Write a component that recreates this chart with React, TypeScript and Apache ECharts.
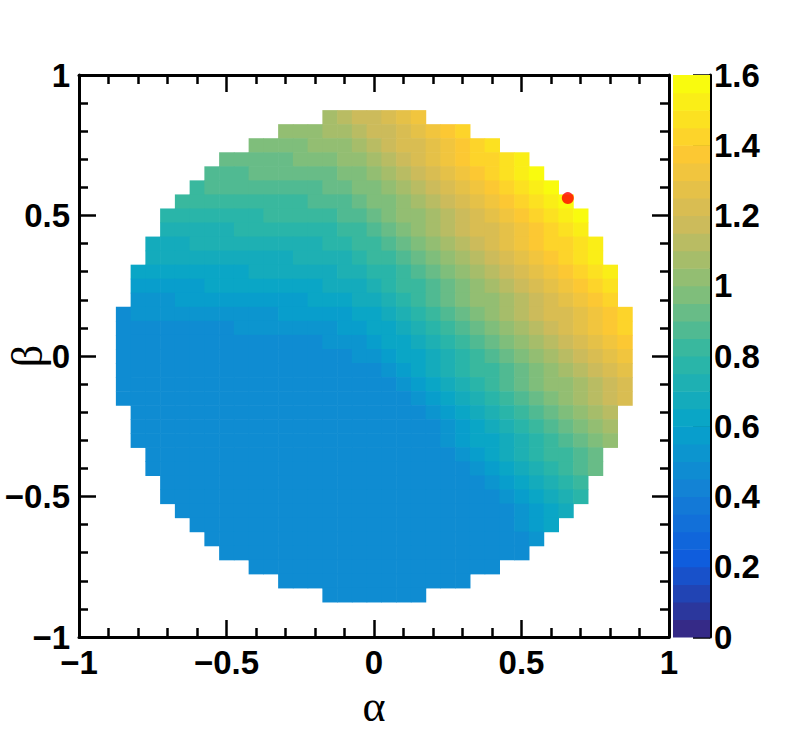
import React, { useEffect, useRef } from "react";
import * as echarts from "echarts";

// Histogram bin width (both axes) and the rows of the map, top (β = 0.85) to bottom (β = −0.85).
const BIN = 0.05;
const betaRows = [
  0.85, 0.8, 0.75, 0.7, 0.65, 0.6, 0.55, 0.5, 0.45, 0.4, 0.35, 0.3, 0.25, 0.2, 0.15, 0.1, 0.05, 0,
  -0.05, -0.1, -0.15, -0.2, -0.25, -0.3, -0.35, -0.4, -0.45, -0.5, -0.55, -0.6, -0.65, -0.7, -0.75, -0.8, -0.85,
];
const valueRows: number[][] = [
  [1.09, 1.12, 1.15, 1.19, 1.23, 1.28, 1.32],
  [1.02, 1.02, 1.04, 1.06, 1.08, 1.11, 1.15, 1.19, 1.24, 1.28, 1.33, 1.38, 1.43],
  [0.97, 0.98, 0.98, 0.99, 1.0, 1.02, 1.04, 1.07, 1.11, 1.15, 1.2, 1.24, 1.29, 1.34, 1.39, 1.44, 1.48],
  [0.92, 0.93, 0.93, 0.94, 0.94, 0.95, 0.96, 0.98, 1.0, 1.03, 1.07, 1.11, 1.16, 1.2, 1.25, 1.3, 1.35, 1.4, 1.44, 1.49, 1.54],
  [0.88, 0.89, 0.89, 0.9, 0.9, 0.91, 0.91, 0.93, 0.94, 0.97, 0.99, 1.03, 1.07, 1.12, 1.16, 1.21, 1.26, 1.31, 1.36, 1.4, 1.45, 1.5, 1.55],
  [0.84, 0.85, 0.85, 0.86, 0.86, 0.87, 0.87, 0.88, 0.89, 0.91, 0.93, 0.96, 0.99, 1.03, 1.08, 1.12, 1.17, 1.22, 1.27, 1.32, 1.36, 1.41, 1.46, 1.51, 1.56],
  [0.8, 0.81, 0.81, 0.82, 0.82, 0.83, 0.83, 0.84, 0.84, 0.85, 0.87, 0.89, 0.92, 0.95, 0.99, 1.04, 1.08, 1.13, 1.18, 1.23, 1.28, 1.32, 1.37, 1.42, 1.47, 1.52, 1.56],
  [0.76, 0.77, 0.77, 0.78, 0.78, 0.79, 0.79, 0.8, 0.8, 0.81, 0.82, 0.83, 0.85, 0.88, 0.91, 0.95, 1.0, 1.04, 1.09, 1.14, 1.19, 1.24, 1.28, 1.33, 1.38, 1.43, 1.48, 1.52, 1.57],
  [0.72, 0.73, 0.73, 0.74, 0.74, 0.75, 0.75, 0.76, 0.76, 0.77, 0.78, 0.79, 0.81, 0.84, 0.87, 0.91, 0.96, 1.0, 1.05, 1.1, 1.15, 1.2, 1.24, 1.29, 1.34, 1.39, 1.44, 1.48, 1.53],
  [0.68, 0.69, 0.69, 0.7, 0.7, 0.71, 0.71, 0.72, 0.72, 0.73, 0.73, 0.74, 0.76, 0.78, 0.8, 0.84, 0.87, 0.92, 0.96, 1.01, 1.06, 1.11, 1.16, 1.2, 1.25, 1.3, 1.35, 1.4, 1.44, 1.49, 1.54],
  [0.65, 0.65, 0.66, 0.66, 0.67, 0.67, 0.68, 0.68, 0.69, 0.69, 0.7, 0.71, 0.72, 0.74, 0.76, 0.8, 0.83, 0.88, 0.92, 0.97, 1.02, 1.07, 1.12, 1.16, 1.21, 1.26, 1.31, 1.36, 1.4, 1.45, 1.5],
  [0.61, 0.61, 0.62, 0.62, 0.63, 0.63, 0.64, 0.64, 0.65, 0.65, 0.66, 0.66, 0.67, 0.68, 0.7, 0.73, 0.76, 0.79, 0.84, 0.88, 0.93, 0.98, 1.03, 1.08, 1.12, 1.17, 1.22, 1.27, 1.32, 1.36, 1.41, 1.46, 1.51],
  [0.57, 0.58, 0.58, 0.59, 0.59, 0.6, 0.6, 0.61, 0.61, 0.62, 0.62, 0.63, 0.63, 0.65, 0.66, 0.69, 0.72, 0.76, 0.8, 0.84, 0.89, 0.94, 0.99, 1.04, 1.08, 1.13, 1.18, 1.23, 1.28, 1.32, 1.37, 1.42, 1.47],
  [0.53, 0.54, 0.54, 0.55, 0.55, 0.56, 0.56, 0.57, 0.57, 0.58, 0.58, 0.59, 0.6, 0.61, 0.63, 0.65, 0.68, 0.72, 0.76, 0.8, 0.85, 0.9, 0.95, 1.0, 1.04, 1.09, 1.14, 1.19, 1.24, 1.28, 1.33, 1.38, 1.43],
  [0.49, 0.5, 0.5, 0.51, 0.51, 0.52, 0.52, 0.53, 0.53, 0.54, 0.54, 0.55, 0.55, 0.56, 0.57, 0.59, 0.61, 0.64, 0.68, 0.72, 0.76, 0.81, 0.86, 0.91, 0.96, 1.0, 1.05, 1.1, 1.15, 1.2, 1.24, 1.29, 1.34, 1.39, 1.44],
  [0.47, 0.47, 0.47, 0.47, 0.48, 0.48, 0.49, 0.49, 0.5, 0.5, 0.51, 0.51, 0.52, 0.52, 0.53, 0.55, 0.57, 0.6, 0.64, 0.68, 0.72, 0.77, 0.82, 0.87, 0.92, 0.96, 1.01, 1.06, 1.11, 1.16, 1.2, 1.25, 1.3, 1.35, 1.4],
  [0.47, 0.47, 0.47, 0.47, 0.47, 0.47, 0.47, 0.47, 0.47, 0.47, 0.47, 0.48, 0.48, 0.49, 0.5, 0.51, 0.54, 0.56, 0.6, 0.64, 0.68, 0.73, 0.78, 0.83, 0.88, 0.92, 0.97, 1.02, 1.07, 1.12, 1.16, 1.21, 1.26, 1.31, 1.36],
  [0.47, 0.47, 0.47, 0.47, 0.47, 0.47, 0.47, 0.47, 0.47, 0.47, 0.47, 0.47, 0.47, 0.47, 0.47, 0.48, 0.5, 0.53, 0.56, 0.6, 0.64, 0.69, 0.74, 0.79, 0.84, 0.88, 0.93, 0.98, 1.03, 1.08, 1.12, 1.17, 1.22, 1.27, 1.32],
  [0.47, 0.47, 0.47, 0.47, 0.47, 0.47, 0.47, 0.47, 0.47, 0.47, 0.47, 0.47, 0.47, 0.47, 0.47, 0.47, 0.47, 0.49, 0.52, 0.56, 0.6, 0.65, 0.7, 0.75, 0.8, 0.84, 0.89, 0.94, 0.99, 1.04, 1.08, 1.13, 1.18, 1.23, 1.28],
  [0.47, 0.47, 0.47, 0.47, 0.47, 0.47, 0.47, 0.47, 0.47, 0.47, 0.47, 0.47, 0.47, 0.47, 0.47, 0.47, 0.47, 0.47, 0.48, 0.52, 0.56, 0.61, 0.66, 0.71, 0.76, 0.8, 0.85, 0.9, 0.95, 1.0, 1.04, 1.09, 1.14, 1.19, 1.24],
  [0.47, 0.47, 0.47, 0.47, 0.47, 0.47, 0.47, 0.47, 0.47, 0.47, 0.47, 0.47, 0.47, 0.47, 0.47, 0.47, 0.47, 0.47, 0.47, 0.48, 0.52, 0.57, 0.62, 0.67, 0.72, 0.76, 0.81, 0.86, 0.91, 0.96, 1.0, 1.05, 1.1, 1.15, 1.2],
  [0.47, 0.47, 0.47, 0.47, 0.47, 0.47, 0.47, 0.47, 0.47, 0.47, 0.47, 0.47, 0.47, 0.47, 0.47, 0.47, 0.47, 0.47, 0.47, 0.48, 0.53, 0.58, 0.63, 0.68, 0.72, 0.77, 0.82, 0.87, 0.92, 0.96, 1.01, 1.06, 1.11],
  [0.47, 0.47, 0.47, 0.47, 0.47, 0.47, 0.47, 0.47, 0.47, 0.47, 0.47, 0.47, 0.47, 0.47, 0.47, 0.47, 0.47, 0.47, 0.47, 0.47, 0.49, 0.54, 0.59, 0.64, 0.68, 0.73, 0.78, 0.83, 0.88, 0.92, 0.97, 1.02, 1.07],
  [0.47, 0.47, 0.47, 0.47, 0.47, 0.47, 0.47, 0.47, 0.47, 0.47, 0.47, 0.47, 0.47, 0.47, 0.47, 0.47, 0.47, 0.47, 0.47, 0.47, 0.47, 0.5, 0.55, 0.6, 0.64, 0.69, 0.74, 0.79, 0.84, 0.88, 0.93, 0.98, 1.03],
  [0.47, 0.47, 0.47, 0.47, 0.47, 0.47, 0.47, 0.47, 0.47, 0.47, 0.47, 0.47, 0.47, 0.47, 0.47, 0.47, 0.47, 0.47, 0.47, 0.47, 0.47, 0.51, 0.56, 0.6, 0.65, 0.7, 0.75, 0.8, 0.84, 0.89, 0.94],
  [0.47, 0.47, 0.47, 0.47, 0.47, 0.47, 0.47, 0.47, 0.47, 0.47, 0.47, 0.47, 0.47, 0.47, 0.47, 0.47, 0.47, 0.47, 0.47, 0.47, 0.47, 0.47, 0.52, 0.56, 0.61, 0.66, 0.71, 0.76, 0.8, 0.85, 0.9],
  [0.47, 0.47, 0.47, 0.47, 0.47, 0.47, 0.47, 0.47, 0.47, 0.47, 0.47, 0.47, 0.47, 0.47, 0.47, 0.47, 0.47, 0.47, 0.47, 0.47, 0.47, 0.48, 0.52, 0.57, 0.62, 0.67, 0.72, 0.76, 0.81],
  [0.47, 0.47, 0.47, 0.47, 0.47, 0.47, 0.47, 0.47, 0.47, 0.47, 0.47, 0.47, 0.47, 0.47, 0.47, 0.47, 0.47, 0.47, 0.47, 0.47, 0.47, 0.47, 0.48, 0.53, 0.58, 0.63, 0.68, 0.72, 0.77],
  [0.47, 0.47, 0.47, 0.47, 0.47, 0.47, 0.47, 0.47, 0.47, 0.47, 0.47, 0.47, 0.47, 0.47, 0.47, 0.47, 0.47, 0.47, 0.47, 0.47, 0.47, 0.47, 0.49, 0.54, 0.59, 0.64, 0.68],
  [0.47, 0.47, 0.47, 0.47, 0.47, 0.47, 0.47, 0.47, 0.47, 0.47, 0.47, 0.47, 0.47, 0.47, 0.47, 0.47, 0.47, 0.47, 0.47, 0.47, 0.47, 0.47, 0.5, 0.55, 0.6],
  [0.47, 0.47, 0.47, 0.47, 0.47, 0.47, 0.47, 0.47, 0.47, 0.47, 0.47, 0.47, 0.47, 0.47, 0.47, 0.47, 0.47, 0.47, 0.47, 0.47, 0.47, 0.47, 0.51],
  [0.47, 0.47, 0.47, 0.47, 0.47, 0.47, 0.47, 0.47, 0.47, 0.47, 0.47, 0.47, 0.47, 0.47, 0.47, 0.47, 0.47, 0.47, 0.47, 0.47, 0.47],
  [0.47, 0.47, 0.47, 0.47, 0.47, 0.47, 0.47, 0.47, 0.47, 0.47, 0.47, 0.47, 0.47, 0.47, 0.47, 0.47, 0.47],
  [0.47, 0.47, 0.47, 0.47, 0.47, 0.47, 0.47, 0.47, 0.47, 0.47, 0.47, 0.47, 0.47],
  [0.47, 0.47, 0.47, 0.47, 0.47, 0.47, 0.47],
];

// Contour levels of the colour scale (32 bands of 0.05 from 0 to 1.6).
const contourLevels = [
  0, 0.05, 0.1, 0.15, 0.2, 0.25, 0.3, 0.35, 0.4, 0.45, 0.5, 0.55, 0.6, 0.65, 0.7, 0.75, 0.8,
  0.85, 0.9, 0.95, 1.0, 1.05, 1.1, 1.15, 1.2, 1.25, 1.3, 1.35, 1.4, 1.45, 1.5, 1.55, 1.6,
];

// Marked point (α, β)
const markedPoint = [[0.657, 0.562]];

// ROOT "bird" palette stops
const BIRD_R = [0.2082, 0.0592, 0.078, 0.0232, 0.1802, 0.5301, 0.8186, 0.9956, 0.9764];
const BIRD_G = [0.1664, 0.3599, 0.5041, 0.6419, 0.7178, 0.7492, 0.7328, 0.7862, 0.9832];
const BIRD_B = [0.5293, 0.8684, 0.8385, 0.7914, 0.6425, 0.4662, 0.3499, 0.1968, 0.0539];

function birdColor(t: number): string {
  const n = BIRD_R.length - 1;
  const x = Math.max(0, Math.min(1, t)) * n;
  const i = Math.min(n - 1, Math.floor(x));
  const f = x - i;
  const c = (arr: number[]) => Math.round((arr[i] + (arr[i + 1] - arr[i]) * f) * 255);
  return `rgb(${c(BIRD_R)},${c(BIRD_G)},${c(BIRD_B)})`;
}

const LABEL_FONT = "'Liberation Sans', Arial, Helvetica, sans-serif";
const TITLE_FONT = "'Liberation Serif', 'Times New Roman', serif";
const LABEL_SIZE = 33;
const minus = (v: number) => String(v).replace("-", "\u2212");

export default function App() {
  const ref = useRef<HTMLDivElement>(null);

  useEffect(() => {
    if (!ref.current) return;
    const chart = echarts.init(ref.current, undefined, { renderer: "svg" });

    const cells: number[][] = [];
    valueRows.forEach((row, r) => {
      const half = (row.length - 1) / 2;
      row.forEach((v, j) => {
        cells.push([+((j - half) * BIN).toFixed(3), betaRows[r], v]);
      });
    });

    const nBands = contourLevels.length - 1;
    const pieces = [];
    const barData: number[][] = [];
    for (let i = 0; i < nBands; i++) {
      const lo = contourLevels[i];
      const hi = contourLevels[i + 1];
      const piece: any = { gte: lo, color: birdColor(i / (nBands - 1)) };
      if (i < nBands - 1) piece.lt = hi;
      else piece.lte = hi;
      pieces.push(piece);
      barData.push([lo, hi, (lo + hi) / 2]);
    }

    const axisLineStyle = { color: "#000", width: 3 };
    const frameAxis = (pos: string, showLabel: boolean, extra: any = {}) => ({
      type: "value",
      gridIndex: 0,
      min: -1,
      max: 1,
      interval: 0.5,
      position: pos,
      nameMoveOverlap: false,
      axisLine: { show: true, onZero: false, lineStyle: axisLineStyle },
      axisTick: { show: true, inside: true, length: 17, lineStyle: { color: "#000", width: 2.5 } },
      minorTick: { show: true, splitNumber: 5, length: 9, lineStyle: { color: "#000", width: 2.5 } },
      splitLine: { show: false },
      minorSplitLine: { show: false },
      axisLabel: {
        show: showLabel,
        color: "#000",
        fontSize: LABEL_SIZE,
        fontWeight: "bold",
        fontFamily: LABEL_FONT,
        formatter: minus,
        showMinLabel: true,
        showMaxLabel: true,
        hideOverlap: false,
        ...(extra.axisLabel || {}),
      },
      ...extra.rest,
    });

    chart.setOption({
      animation: false,
      backgroundColor: "#fff",
      grid: [
        { left: 79, top: 75, width: 590, height: 562, containLabel: false, outerBoundsMode: "none" },
        { left: 673, top: 75, width: 37, height: 562, containLabel: false, outerBoundsMode: "none" },
      ],
      xAxis: [
        frameAxis("bottom", true, {
          axisLabel: { margin: 9 },
          rest: {
            name: "\u03b1",
            nameLocation: "middle",
            nameGap: 47,
            nameTextStyle: { fontFamily: TITLE_FONT, fontSize: 44, color: "#000" },
          },
        }),
        frameAxis("top", false),
        { type: "value", gridIndex: 1, min: 0, max: 1, show: false },
      ],
      yAxis: [
        frameAxis("left", true, {
          axisLabel: { margin: 9 },
          rest: {
            name: "\u03b2",
            nameLocation: "middle",
            nameGap: 31,
            nameRotate: 90,
            nameTextStyle: { fontFamily: TITLE_FONT, fontSize: 44, lineHeight: 42, color: "#000" },
          },
        }),
        frameAxis("right", false),
        {
          type: "value",
          gridIndex: 1,
          min: 0,
          max: 1.6,
          interval: 0.2,
          position: "right",
          nameMoveOverlap: false,
          axisLine: { show: true, onZero: false, lineStyle: axisLineStyle },
          axisTick: { show: true, inside: true, length: 17, lineStyle: { color: "#000", width: 2.5 } },
          splitLine: { show: false },
          axisLabel: {
            color: "#000",
            fontSize: LABEL_SIZE,
            fontWeight: "bold",
            fontFamily: LABEL_FONT,
            margin: 4,
            showMinLabel: true,
            showMaxLabel: true,
            hideOverlap: false,
          },
        },
      ],
      visualMap: {
        type: "piecewise",
        show: false,
        dimension: 2,
        seriesIndex: [0, 1],
        pieces,
      },
      series: [
        {
          type: "custom",
          xAxisIndex: 0,
          yAxisIndex: 0,
          data: cells,
          renderItem: (_params: any, api: any) => {
            const a = api.value(0);
            const b = api.value(1);
            const p0 = api.coord([a - BIN / 2, b + BIN / 2]);
            const p1 = api.coord([a + BIN / 2, b - BIN / 2]);
            return {
              type: "rect",
              shape: { x: p0[0], y: p0[1], width: p1[0] - p0[0] + 0.6, height: p1[1] - p0[1] + 0.6 },
              style: { fill: api.visual("color") },
            };
          },
          silent: true,
        },
        {
          type: "custom",
          xAxisIndex: 2,
          yAxisIndex: 2,
          data: barData,
          encode: { y: [0, 1] },
          renderItem: (_params: any, api: any) => {
            const p0 = api.coord([0, api.value(1)]);
            const p1 = api.coord([1, api.value(0)]);
            return {
              type: "rect",
              shape: { x: p0[0], y: p0[1], width: p1[0] - p0[0], height: p1[1] - p0[1] + 0.6 },
              style: { fill: api.visual("color") },
            };
          },
          silent: true,
        },
        {
          type: "scatter",
          xAxisIndex: 0,
          yAxisIndex: 0,
          data: markedPoint,
          symbol: "circle",
          symbolSize: 12,
          itemStyle: { color: "#ff0000" },
          z: 5,
          silent: true,
        },
      ],
    });

    return () => chart.dispose();
  }, []);

  return (
    <div
      ref={ref}
      style={{ position: "absolute", left: 0, top: 0, width: 788, height: 750, background: "#fff" }}
    />
  );
}
